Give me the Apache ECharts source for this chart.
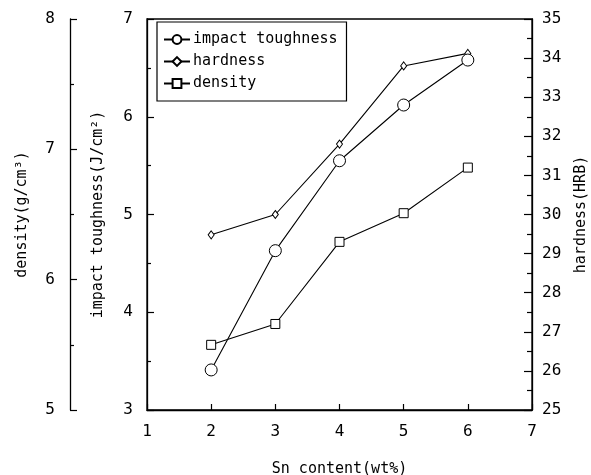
<!DOCTYPE html>
<html>
<head>
<meta charset="utf-8">
<script src="https://cdn.jsdelivr.net/npm/echarts@6/dist/echarts.min.js"></script>
<style>
  html, body { margin: 0; padding: 0; background: #fff; }
  #chart { width: 591px; height: 475px; }
</style>
</head>
<body>
<div id="chart"></div>
<script>
// Sn content in wt%
const snContent = [2, 3, 4, 5, 6];
// Impact toughness, J/cm^2
const impactToughness = [3.41, 4.63, 5.55, 6.12, 6.58];
// Hardness, HRB
const hardness = [29.48, 30.0, 31.8, 33.8, 34.12];
// Density, g/cm^3
const density = [5.5, 5.66, 6.29, 6.51, 6.86];

const FONT = 'DejaVu Sans Mono';
const INK = '#000';

function pairs(xs, ys) {
  return xs.map((x, i) => [x, ys[i]]);
}

function yAxisBase(extra) {
  return Object.assign({
    type: 'value',
    nameLocation: 'middle',
    nameRotate: 90,
    nameTextStyle: { fontFamily: FONT, fontSize: 15, color: INK },
    axisLine: { show: true, lineStyle: { color: INK, width: 1.3 } },
    axisTick: { show: true, inside: true, length: 7, lineStyle: { color: INK, width: 1.2 } },
    minorTick: { show: true, splitNumber: 2, length: 4, lineStyle: { color: INK, width: 1.2 } },
    axisLabel: { fontFamily: FONT, fontSize: 16, color: INK },
    splitLine: { show: false }
  }, extra);
}

// Hollow markers: white fill, thin black outline
const markerStyle = { color: '#fff', borderColor: INK, borderWidth: 1 };

const chart = echarts.init(document.getElementById('chart'), null, { renderer: 'canvas' });

chart.setOption({
  backgroundColor: '#fff',
  animation: false,
  grid: {
    left: 147, right: 59, top: 19, bottom: 65,
    containLabel: false,
    outerBoundsMode: 'none',
    show: true, borderColor: INK, borderWidth: 1.3, backgroundColor: 'transparent'
  },
  legend: {
    left: 157, top: 22,
    orient: 'vertical',
    padding: [10, 9, 10, 6],
    itemWidth: 26, itemHeight: 11, itemGap: 7,
    borderColor: INK, borderWidth: 1.2,
    textStyle: { fontFamily: FONT, fontSize: 15, color: INK, lineHeight: 14, padding: [0, 0, 0, -2] },
    data: ['impact toughness', 'hardness', 'density']
  },
  xAxis: {
    type: 'value',
    min: 1, max: 7, interval: 1,
    name: 'Sn content(wt%)',
    nameLocation: 'middle',
    nameGap: 52,
    nameTextStyle: { fontFamily: FONT, fontSize: 15, color: INK },
    axisLine: { show: true, lineStyle: { color: INK, width: 1.3 } },
    axisTick: { show: true, inside: true, length: 6, lineStyle: { color: INK, width: 1.2 } },
    axisLabel: { fontFamily: FONT, fontSize: 16, color: INK, margin: 14 },
    splitLine: { show: false }
  },
  yAxis: [
    yAxisBase({
      position: 'left',
      min: 3, max: 7, interval: 1,
      name: 'impact toughness(J/cm²)',
      nameGap: 41,
      axisLabel: { fontFamily: FONT, fontSize: 16, color: INK, margin: 14 }
    }),
    yAxisBase({
      position: 'left',
      offset: 77,
      min: 5, max: 8, interval: 1,
      name: 'density(g/cm³)',
      nameGap: 40,
      axisLabel: { fontFamily: FONT, fontSize: 16, color: INK, margin: 15 }
    }),
    yAxisBase({
      position: 'right',
      min: 25, max: 35, interval: 1,
      name: 'hardness(HRB)',
      nameGap: 42,
      axisTick: { show: true, inside: true, length: 8, lineStyle: { color: INK, width: 1.2 } },
      minorTick: { show: true, splitNumber: 2, length: 5, lineStyle: { color: INK, width: 1.2 } },
      axisLabel: { fontFamily: FONT, fontSize: 16, color: INK, margin: 10 }
    })
  ],
  series: [
    {
      name: 'impact toughness',
      type: 'line',
      yAxisIndex: 0,
      data: pairs(snContent, impactToughness),
      symbol: 'circle',
      symbolSize: 12,
      lineStyle: { color: INK, width: 1.1 },
      itemStyle: markerStyle,
      z: 3
    },
    {
      name: 'hardness',
      type: 'line',
      yAxisIndex: 2,
      data: pairs(snContent, hardness),
      symbol: 'diamond',
      symbolSize: [6, 8],
      lineStyle: { color: INK, width: 1.1 },
      itemStyle: markerStyle,
      z: 2
    },
    {
      name: 'density',
      type: 'line',
      yAxisIndex: 1,
      data: pairs(snContent, density),
      symbol: 'rect',
      symbolSize: 9,
      lineStyle: { color: INK, width: 1.1 },
      itemStyle: markerStyle,
      z: 2
    }
  ]
});
</script>
</body>
</html>
